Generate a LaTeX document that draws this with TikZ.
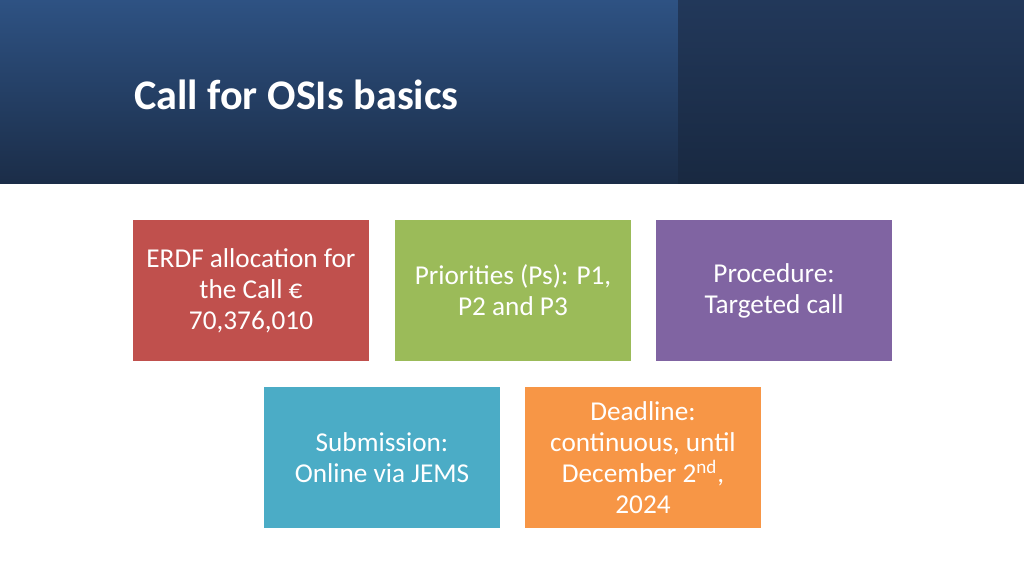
\documentclass[tikz,border=0pt]{standalone}
\usepackage{fontspec}
\setmainfont{Carlito}
\definecolor{hdrtop}{HTML}{2E5283}
\definecolor{hdrbot}{HTML}{1B2D48}
\definecolor{hdrright}{HTML}{22385A}
\definecolor{erdfred}{HTML}{C0504D}
\definecolor{prigreen}{HTML}{9BBB59}
\definecolor{procpurple}{HTML}{8064A2}
\definecolor{subcyan}{HTML}{4BACC6}
\definecolor{deadorange}{HTML}{F79646}
\tikzset{
  infobox/.style={minimum width=4.72cm, minimum height=2.82cm,
    align=center, text=white, font=\fontsize{15.5}{17.6}\selectfont, inner sep=0pt}
}
\begin{document}
\begin{tikzpicture}[x=0.02cm,y=-0.02cm]
\useasboundingbox (0,0) rectangle (1024,576);

\shade[top color=hdrtop, bottom color=hdrbot] (0,0) rectangle (678,183);
\shade[top color=hdrright, bottom color=hdrbot!90!black] (678,0) rectangle (1024,183);
\node [anchor=west, text=white, font=\fontsize{24}{28}\bfseries\selectfont] (title) at (128,95) {Call for OSIs basics};

\node [infobox, fill=erdfred] (erdf) at (251,290.5) {ERDF allocation for\\the Call €\\70,376,010};
\node [infobox, fill=prigreen] (prio) at (513,290.5) {Priorities (Ps): P1,\\P2 and P3};
\node [infobox, fill=procpurple] (proc) at (774,290.5) {Procedure:\\Targeted call};
\node [infobox, fill=subcyan] (subm) at (382,457.5) {Submission:\\Online via JEMS};
\node [infobox, fill=deadorange] (dead) at (643,457.5) {Deadline:\\continuous, until\\December 2\textsuperscript{nd},\\2024};

\end{tikzpicture}
\end{document}
